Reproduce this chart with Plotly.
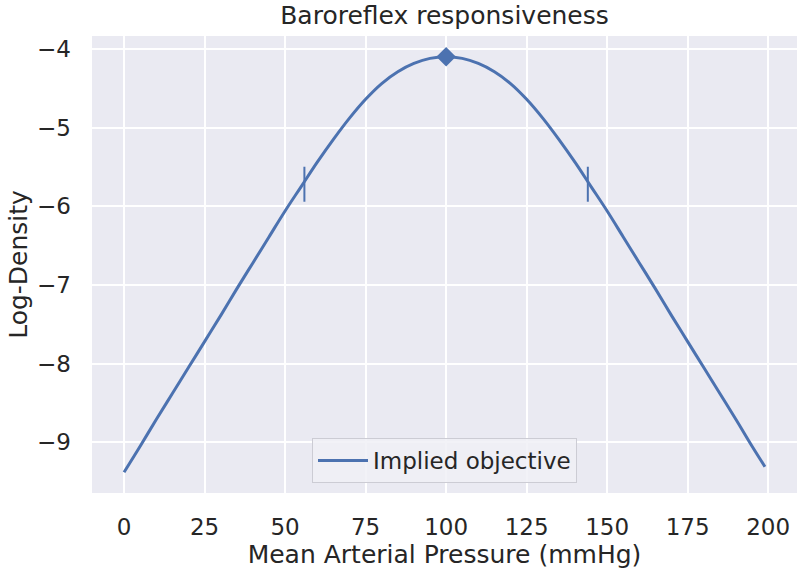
import plotly.graph_objects as go

# Mean arterial pressure (mmHg) and implied log-density
pressure = [0, 5, 10, 15, 20, 25, 30, 35, 40, 45, 50, 55, 60, 65, 70, 75, 80, 85, 90, 95,
            100, 105, 110, 115, 120, 125, 130, 135, 140, 145, 150, 155, 160, 165, 170, 175,
            180, 185, 190, 195, 199]
log_density = [-9.38, -9.05, -8.71, -8.38, -8.05, -7.72, -7.39, -7.05, -6.72, -6.39, -6.06,
               -5.75, -5.44, -5.15, -4.88, -4.64, -4.44, -4.29, -4.185, -4.12,
               -4.10, -4.12, -4.185, -4.29, -4.44, -4.64, -4.88, -5.15, -5.44, -5.75, -6.06,
               -6.39, -6.72, -7.05, -7.39, -7.72, -8.05, -8.38, -8.71, -9.05, -9.31]

peak_x = [100]
peak_y = [-4.10]
band_x = [56, 144]
band_y = [-5.72, -5.72]

x_ticks = [0, 25, 50, 75, 100, 125, 150, 175, 200]
y_ticks = [-9, -8, -7, -6, -5, -4]

BLUE = "#4C72B0"
TXT = "#262626"
FONT = "DejaVu Sans"

fig = go.Figure()
fig.add_trace(go.Scatter(x=pressure, y=log_density, mode="lines",
                         line=dict(color=BLUE, width=3, shape="spline", smoothing=1.0),
                         name="Implied objective"))
fig.add_trace(go.Scatter(x=peak_x, y=peak_y, mode="markers",
                         marker=dict(symbol="diamond", size=15, color=BLUE),
                         showlegend=False))
fig.add_trace(go.Scatter(x=band_x, y=band_y, mode="markers",
                         marker=dict(symbol="line-ns", size=25,
                                     line=dict(color=BLUE, width=2)),
                         showlegend=False))

fig.update_layout(
    width=801, height=573,
    margin=dict(l=92, r=4, t=36, b=80),
    paper_bgcolor="white",
    plot_bgcolor="#EAEAF2",
    font=dict(family=FONT, size=23, color=TXT),
    title=dict(text="Baroreflex responsiveness", x=0.5, xref="paper", xanchor="center",
               y=0.974, yanchor="middle", font=dict(size=25, color=TXT)),
    showlegend=True,
    legend=dict(x=0.5, xanchor="center", y=0.022, yanchor="bottom",
                bgcolor="rgba(240,240,246,0.85)", bordercolor="#CCCCD4", borderwidth=1,
                itemwidth=50, font=dict(size=23, color=TXT)),
)
fig.update_xaxes(range=[-9.95, 208.95], tickvals=x_ticks, showgrid=True, automargin=False,
                 gridcolor="white", gridwidth=2, zeroline=False, showline=False,
                 ticks="", ticklabelstandoff=18,
                 tickfont=dict(size=23, color=TXT),
                 title=dict(text="Mean Arterial Pressure (mmHg)", standoff=0,
                            font=dict(size=25, color=TXT)))
fig.update_yaxes(range=[-9.644, -3.836], tickvals=y_ticks, showgrid=True, automargin=False,
                 gridcolor="white", gridwidth=2, zeroline=False, showline=False,
                 ticks="", ticklabelstandoff=20,
                 tickfont=dict(size=23, color=TXT),
                 title=dict(text="Log-Density", standoff=2,
                            font=dict(size=25, color=TXT)))

fig.write_html("out.html", config={"displayModeBar": False},
               post_script="document.body.style.margin='0';")
